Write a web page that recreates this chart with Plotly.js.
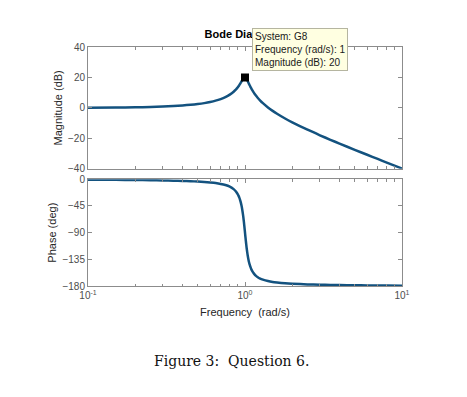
<!DOCTYPE html>
<html>
<head>
<meta charset="utf-8">
<script src="https://cdn.plot.ly/plotly-3.0.1.min.js"></script>
<style>html,body{margin:0;padding:0;background:#fff;}#chart{width:467px;height:397px;}</style>
</head>
<body>
<div id="chart"></div>
<script>
// Frequencies (rad/s)
const freq = [0.1, 0.15, 0.2, 0.25, 0.3, 0.35, 0.4, 0.45, 0.5, 0.55, 0.6, 0.65, 0.7, 0.75, 0.8, 0.85, 0.87, 0.88,
              0.9, 0.91, 0.92, 0.93, 0.94, 0.95, 0.96, 0.97, 0.975, 0.98, 0.985, 0.99, 0.995, 1.0,
              1.005, 1.01, 1.015, 1.02, 1.025, 1.03, 1.04, 1.05, 1.06, 1.07, 1.08, 1.09, 1.1, 1.12, 1.13, 1.15, 1.17,
              1.2, 1.25, 1.3, 1.4, 1.5, 1.6, 1.8, 2, 2.5, 3, 3.5, 4, 5, 6, 7, 8, 10];
// Magnitude (dB)
const magnitude = [0.09, 0.2, 0.35, 0.56, 0.81, 1.13, 1.5, 1.95, 2.48, 3.1, 3.84, 4.71, 5.77, 7.05, 8.66, 10.75, 11.76, 12.32,
                   13.55, 14.22, 14.94, 15.7, 16.5, 17.32, 18.13, 18.89, 19.23, 19.52, 19.75, 19.91, 20.0, 20,
                   19.91, 19.74, 19.5, 19.2, 18.84, 18.44, 17.58, 16.67, 15.77, 14.89, 14.05, 13.25, 12.5, 11.12, 10.48, 9.31, 8.25,
                   6.82, 4.79, 3.07, 0.26, -2.0, -3.91, -7.03, -9.56, -14.41, -18.07, -21.03, -23.52, -27.61, -30.88, -33.63, -35.99, -39.91];
// Phase (deg)
const phase = [-0.6, -0.9, -1.2, -1.5, -1.9, -2.3, -2.7, -3.2, -3.8, -4.5, -5.4, -6.4, -7.8, -9.7, -12.5, -17.0, -19.7, -21.3,
               -25.4, -27.9, -30.9, -34.5, -38.9, -44.3, -50.8, -58.7, -63.1, -68.0, -73.2, -78.6, -84.3, -90,
               -95.7, -101.3, -106.6, -111.6, -116.3, -120.6, -128.1, -134.3, -139.4, -143.6, -147.0, -149.9, -152.4, -156.2, -157.8, -160.4, -162.4,
               -164.7, -167.5, -169.3, -171.7, -173.2, -174.1, -175.4, -176.2, -177.3, -177.9, -178.2, -178.5, -178.8, -179.0, -179.2, -179.3, -179.4];
// Data tip
const tipFreq = [1];
const tipMag = [20];
const tipLines = ["System: G8", "Frequency (rad/s): 1", "Magnitude (dB): 20"];
const xTickVals = [0.1, 1, 10];
const xTickText = ["10<sup>-1</sup>", "10<sup>0</sup>", "10<sup>1</sup>"];
const minorVals = [0.2,0.3,0.4,0.5,0.6,0.7,0.8,0.9,2,3,4,5,6,7,8,9];
const magTicks = [-40, -20, 0, 20, 40];
const phaseTicks = [-180, -135, -90, -45, 0];

const FF = '"Liberation Sans", Arial, sans-serif';
const lineColor = '#13527f';
const axColor = '#8c8c8c';
const tickFont = {family: FF, size: 10, color: '#4d4d4d'};
const titleFont = {family: FF, size: 11, color: '#262626'};

const traces = [
  {x: freq, y: magnitude, xaxis: 'x2', yaxis: 'y2', type: 'scatter', mode: 'lines',
   line: {color: lineColor, width: 2.5, shape: 'spline', smoothing: 0.7, simplify: false}, hoverinfo: 'skip'},
  {x: freq, y: phase, xaxis: 'x', yaxis: 'y', type: 'scatter', mode: 'lines',
   line: {color: lineColor, width: 2.5, shape: 'spline', smoothing: 0.7, simplify: false}, hoverinfo: 'skip'},
  {x: tipFreq, y: tipMag, xaxis: 'x2', yaxis: 'y2', type: 'scatter', mode: 'markers',
   marker: {symbol: 'square', size: 8, color: '#000000'}, hoverinfo: 'skip'}
];

const baseX = {
  type: 'log', range: [-1, 1], showgrid: false, zeroline: false,
  showline: true, linecolor: axColor, linewidth: 1, mirror: 'ticks',
  ticks: 'inside', ticklen: 4, tickcolor: axColor,
  tickvals: xTickVals, ticktext: xTickText,
  minor: {ticks: 'inside', ticklen: 2.5, tickcolor: axColor, tickvals: minorVals, showgrid: false},
  tickfont: tickFont
};

const layout = {
  width: 467, height: 397,
  margin: {l: 88, r: 65, t: 47, b: 111},
  paper_bgcolor: '#ffffff', plot_bgcolor: '#ffffff',
  showlegend: false,
  title: {text: '<b>Bode Diagram</b>', font: {family: FF, size: 11, color: '#000000'},
          x: 0.518, xanchor: 'center', y: 0.913, yanchor: 'middle'},
  xaxis: Object.assign({}, baseX, {domain: [0, 1], anchor: 'y',
          title: {text: 'Frequency  (rad/s)', font: titleFont, standoff: 8}}),
  xaxis2: Object.assign({}, baseX, {domain: [0, 1], anchor: 'y2', showticklabels: false, matches: 'x'}),
  yaxis: {domain: [0, 0.4464], range: [-180, 0], tickvals: phaseTicks, showgrid: false, zeroline: false,
          showline: true, linecolor: axColor, mirror: 'ticks', ticks: 'inside', ticklen: 4, tickcolor: axColor,
          tickfont: tickFont, title: {text: 'Phase (deg)', font: titleFont, standoff: 3}},
  yaxis2: {domain: [0.491, 1], range: [-40, 40], tickvals: magTicks, showgrid: false, zeroline: false,
          showline: true, linecolor: axColor, mirror: 'ticks', ticks: 'inside', ticklen: 4, tickcolor: axColor,
          tickfont: tickFont, title: {text: 'Magnitude (dB)', font: titleFont, standoff: 3}},
  annotations: [
    {xref: 'paper', yref: 'paper', x: 0.521, y: 1.078, xanchor: 'left', yanchor: 'top',
     text: tipLines.join('<br>'), align: 'left', showarrow: false,
     font: {family: FF, size: 10, color: '#1a1a1a'},
     bgcolor: '#ffffe1', bordercolor: '#b5b5a0', borderwidth: 1, borderpad: 2},
    {xref: 'paper', yref: 'paper', x: 0.457, y: -0.315, xanchor: 'center', yanchor: 'middle',
     text: 'Figure 3:  Question 6.', showarrow: false,
     font: {family: '"DejaVu Serif", "Liberation Serif", serif', size: 14, color: '#111111'}}
  ]
};

Plotly.newPlot('chart', traces, layout, {staticPlot: true, displayModeBar: false});
</script>
</body>
</html>
